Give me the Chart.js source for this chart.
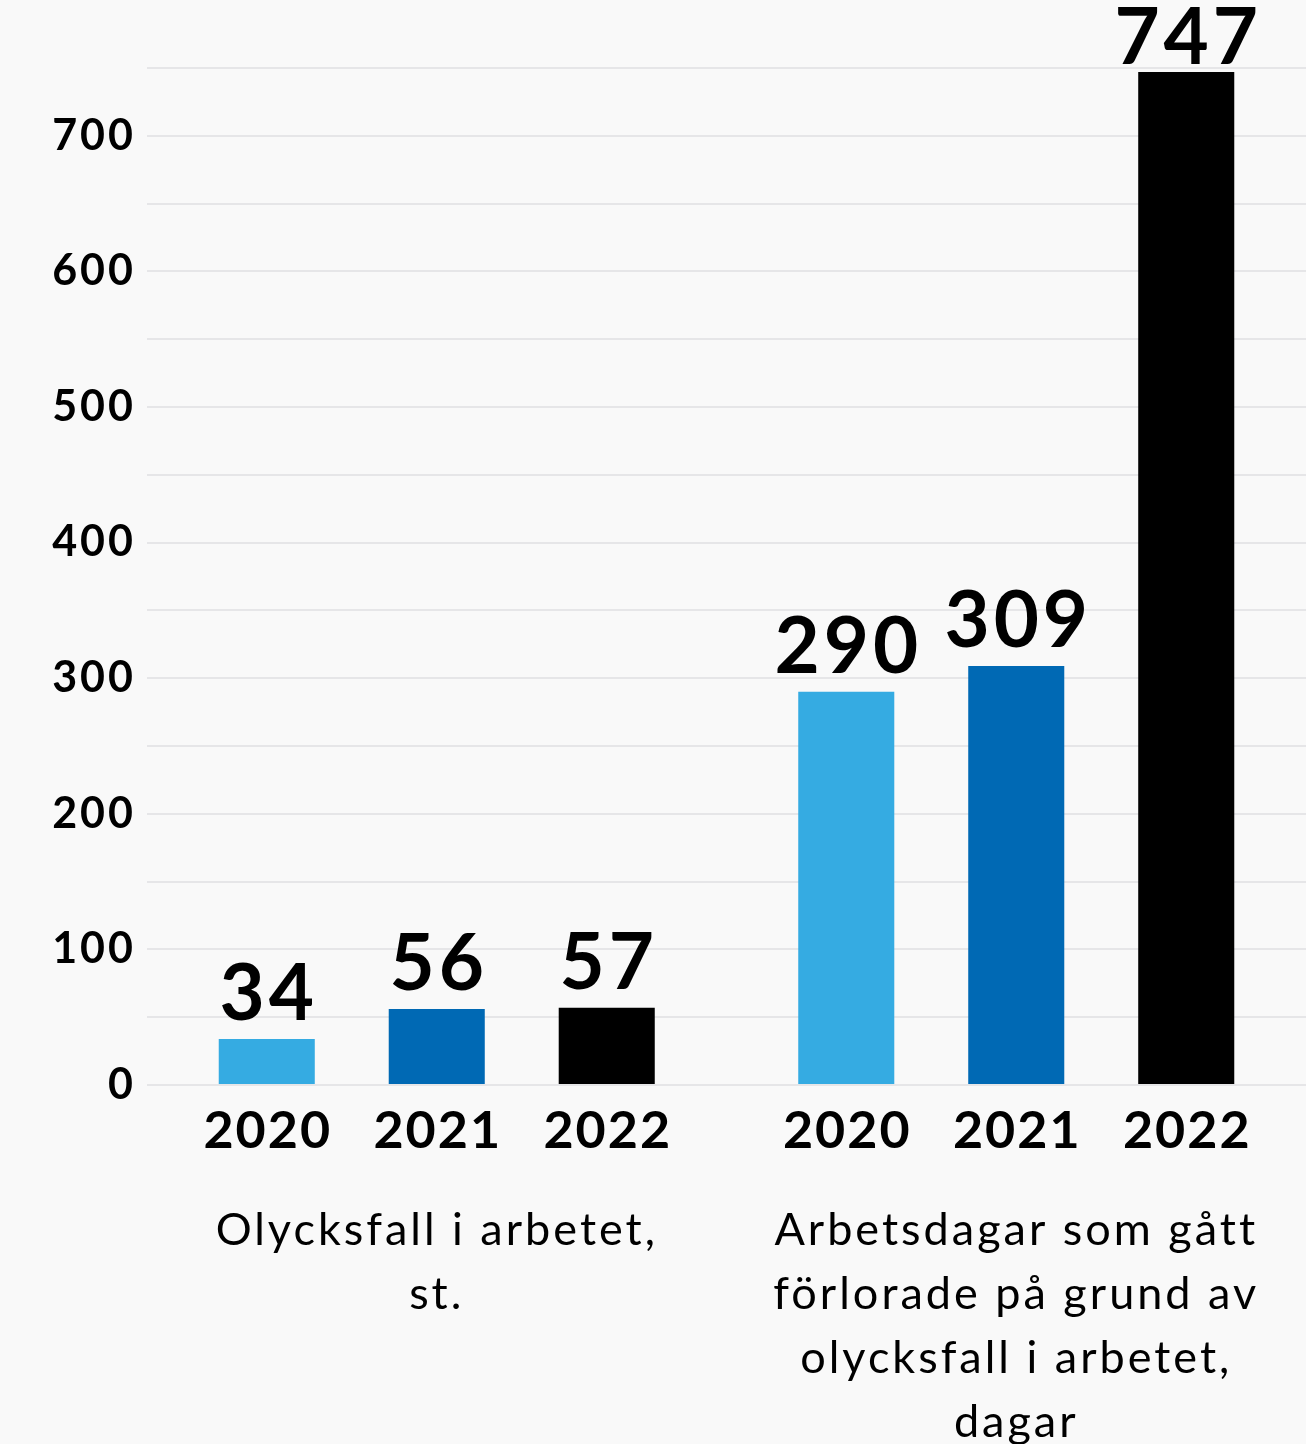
<!DOCTYPE html>
<html>
<head>
<meta charset="utf-8">
<script src="https://cdn.jsdelivr.net/npm/chart.js@4.4.1/dist/chart.umd.min.js"></script>
<style>
    body { margin: 0; background: #f9f9f9; }
    #wrap { width: 1306px; height: 1444px; }
</style>
</head>
<body>
<div id="wrap"><canvas id="myChart" width="1306" height="1444"></canvas></div>
<script>
// data
const groups = [
    ['Olycksfall i arbetet,', 'st.'],
    ['Arbetsdagar som gått', 'förlorade på grund av', 'olycksfall i arbetet,', 'dagar']
];
const years = ['2020', '2021', '2022'];
const values2020 = [34, 290];
const values2021 = [56, 309];
const values2022 = [57, 747];
const yearColors = ['#35abe2', '#0069b4', '#000000'];
const yMax = 750;
const yStep = 50;
const yLabelStep = 100;

var fontName = 'Lato, "Open Sans", sans-serif';

// the reference font is wider than Lato, so spread the letters a bit
var spacing = {
    id: 'spacing',
    beforeDraw(chart) {
        chart.ctx.letterSpacing = '3px';
    }
};

// numbers over the bars and the year under each bar
var barLabels = {
    id: 'barLabels',
    afterDatasetsDraw(chart) {
        var ctx = chart.ctx;
        var xAxis = chart.scales.x;
        ctx.save();
        ctx.fillStyle = '#000';
        ctx.textAlign = 'center';
        ctx.textBaseline = 'alphabetic';
        for (var i = 0; i < chart.data.datasets.length; i++) {
            var ds = chart.data.datasets[i];
            var meta = chart.getDatasetMeta(i);
            for (var j = 0; j < meta.data.length; j++) {
                var bar = meta.data[j];
                ctx.letterSpacing = '4px';
                ctx.font = 'bold 78px ' + fontName;
                // keep the tallest label inside the canvas
                var ly = Math.max(bar.y - 19, 64);
                ctx.fillText(String(ds.data[j]), bar.x + 2, ly);
                ctx.letterSpacing = '2px';
                ctx.font = 'bold 52px ' + fontName;
                ctx.fillText(ds.label, bar.x + 1, xAxis.top + 63);
            }
        }
        ctx.restore();
    }
};

var seriesValues = [values2020, values2021, values2022];
var datasets = [];
for (var i = 0; i < years.length; i++) {
    datasets.push({
        label: years[i],
        data: seriesValues[i],
        backgroundColor: yearColors[i],
        borderWidth: 0,
        categoryPercentage: 0.88,
        barPercentage: 0.565
    });
}

var ctx = document.getElementById('myChart');
var chart = new Chart(ctx, {
    type: 'bar',
    data: {
        labels: groups,
        datasets: datasets
    },
    options: {
        responsive: false,
        animation: false,
        layout: { padding: { top: 68, right: 0, bottom: 0, left: 0 } },
        plugins: {
            legend: { display: false },
            tooltip: { enabled: false }
        },
        scales: {
            x: {
                grid: { display: false, drawTicks: false },
                border: { display: false },
                ticks: {
                    color: '#000',
                    padding: 113,
                    maxRotation: 0,
                    autoSkip: false,
                    font: { family: fontName, size: 45, weight: 'normal', lineHeight: 64 / 45 }
                },
                afterFit: function(scale) {
                    scale.height = 359;
                    scale.paddingLeft = 0;
                    scale.paddingRight = 0;
                }
            },
            y: {
                min: 0,
                max: yMax,
                grid: { color: '#e6e6e8', lineWidth: 2, drawTicks: false },
                border: { display: false },
                ticks: {
                    stepSize: yStep,
                    color: '#000',
                    padding: 11,
                    font: { family: fontName, size: 43, weight: 'bold' },
                    callback: function(v) { return v % yLabelStep === 0 ? v : ''; }
                },
                afterFit: function(scale) {
                    scale.width = 147;
                    scale.paddingTop = 0;
                    scale.paddingBottom = 0;
                }
            }
        }
    },
    plugins: [spacing, barLabels]
});
</script>
</body>
</html>
